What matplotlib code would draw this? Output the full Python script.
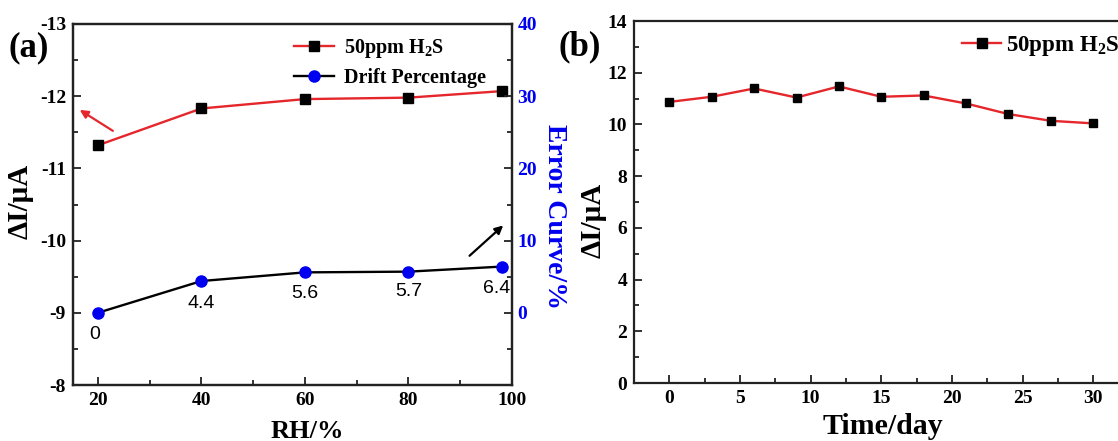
import numpy as np
import matplotlib
matplotlib.use('Agg')
import matplotlib.pyplot as plt
from matplotlib.ticker import MultipleLocator, FixedLocator

plt.rcParams['font.family'] = ['Liberation Serif', 'DejaVu Serif']
plt.rcParams['font.weight'] = 'bold'
plt.rcParams['axes.unicode_minus'] = False
plt.rcParams['mathtext.fontset'] = 'custom'
plt.rcParams['mathtext.rm'] = 'Liberation Serif:bold'
plt.rcParams['mathtext.it'] = 'Liberation Serif:bold'
plt.rcParams['mathtext.bf'] = 'Liberation Serif:bold'

# (a) 湿度依存
rh = [20, 40, 60, 80, 98]
current_rh = [-11.32, -11.83, -11.96, -11.98, -12.07]
drift = [0, 4.4, 5.6, 5.7, 6.4]
drift_labels = ['0', '4.4', '5.6', '5.7', '6.4']

# (b) 長期安定性
days = [0, 3, 6, 9, 12, 15, 18, 21, 24, 27, 30]
current_day = [10.87, 11.07, 11.39, 11.04, 11.47, 11.07, 11.12, 10.81, 10.40, 10.14, 10.04]

W, H = 1118, 441
red = '#e5262b'
blue = '#0000f0'
spine_c = '#222222'

fig = plt.figure(figsize=(W / 100, H / 100), dpi=100)


def px_axes(l, r, t, b):
    return [l / W, 1 - b / H, (r - l) / W, (b - t) / H]


def style(ax):
    for s in ax.spines.values():
        s.set_color(spine_c)
        s.set_linewidth(1.6)
    ax.tick_params(which='both', direction='in', color=spine_c, width=1.3,
                   labelsize=14, pad=5)
    ax.tick_params(which='major', length=6)
    ax.tick_params(which='minor', length=3.5)


# ---- (a)
ax1 = fig.add_axes(px_axes(73, 512, 24, 385))
style(ax1)
ax1.plot(rh, current_rh, color=red, lw=1.7, marker='s', ms=6.5,
         mfc='black', mec='black', label='50ppm H$_2$S', zorder=3)
ax1.set_xlim(15.2, 100)
ax1.set_ylim(-8, -13)
ax1.set_yticks([-13, -12, -11, -10, -9, -8])
ax1.yaxis.set_minor_locator(MultipleLocator(0.5))
ax1.set_xticks([20, 40, 60, 80, 100])
ax1.xaxis.set_minor_locator(FixedLocator([30, 50, 70, 90]))
ax1.tick_params(top=False, right=False, which='both')

ax2 = ax1.twinx()
style(ax2)
ax2.plot(rh, drift, color='black', lw=1.7, marker='o', ms=8,
         mfc=blue, mec=blue, label='Drift Percentage', zorder=3)
ax2.set_ylim(-10, 40)
ax2.set_yticks([0, 10, 20, 30, 40])
ax2.yaxis.set_minor_locator(FixedLocator([-5, 5, 15, 25, 35]))
ax2.tick_params(axis='y', labelcolor=blue, pad=4)

offs = [(-2, -15.5), (0, -16.5), (0, -15.5), (0, -14.5), (-3.5, -16)]
for x, y, t, o in zip(rh, drift, drift_labels, offs):
    ax2.annotate(t, (x, y), xytext=o, textcoords='offset points',
                 ha='center', va='center', fontsize=14,
                 family='Liberation Sans', fontweight='normal')

ax1.annotate('', xy=(16.5, -11.81), xytext=(22.9, -11.52),
             arrowprops=dict(arrowstyle='-|>', color=red, lw=1.6,
                             mutation_scale=12, shrinkA=0, shrinkB=0))
ax2.annotate('', xy=(98.3, 12.1), xytext=(91.8, 7.9),
             arrowprops=dict(arrowstyle='-|>', color='black', lw=1.6,
                             mutation_scale=12, shrinkA=0, shrinkB=0))

h1, l1 = ax1.get_legend_handles_labels()
h2, l2 = ax2.get_legend_handles_labels()
ax2.legend(h1 + h2, l1 + l2, loc='upper left', bbox_to_anchor=(0.503, 0.965),
           frameon=False, fontsize=14.5, borderpad=0, borderaxespad=0,
           handlelength=2.0, handletextpad=0.5, labelspacing=0.4)

fig.text(307 / W, 1 - 431 / H, 'RH/%', ha='center', va='center', fontsize=19)
fig.text(20 / W, 1 - 201 / H, 'ΔI/μA', ha='center', va='center', fontsize=21,
         rotation=90)
fig.text(555 / W, 1 - 217 / H, 'Error Curve/%', ha='center', va='center',
         fontsize=20, rotation=270, color=blue)
fig.text(29 / W, 1 - 48 / H, '(a)', ha='center', va='center', fontsize=25)

# ---- (b)
ax3 = fig.add_axes(px_axes(634, 1128.6, 21, 383))
style(ax3)
ax3.plot(days, current_day, color=red, lw=1.7, marker='s', ms=6,
         mfc='black', mec='black', label='50ppm H$_2$S', zorder=3)
ax3.set_xlim(-2.5, 32.5)
ax3.set_ylim(0, 14)
ax3.set_xticks(np.arange(0, 31, 5))
ax3.xaxis.set_minor_locator(MultipleLocator(2.5))
ax3.set_yticks(np.arange(0, 15, 2))
ax3.yaxis.set_minor_locator(MultipleLocator(1))
ax3.tick_params(top=False, right=False, which='both')
ax3.legend(loc='upper left', bbox_to_anchor=(0.664, 0.965), frameon=False,
           fontsize=16.5, borderpad=0, borderaxespad=0, handlelength=1.7,
           handletextpad=0.2, markerscale=1.1)

fig.text(883 / W, 1 - 427 / H, 'Time/day', ha='center', va='center', fontsize=21.5)
fig.text(593 / W, 1 - 220 / H, 'ΔI/μA', ha='center', va='center', fontsize=21,
         rotation=90)
fig.text(580 / W, 1 - 47 / H, '(b)', ha='center', va='center', fontsize=25)

fig.savefig('out.png', dpi=100)
